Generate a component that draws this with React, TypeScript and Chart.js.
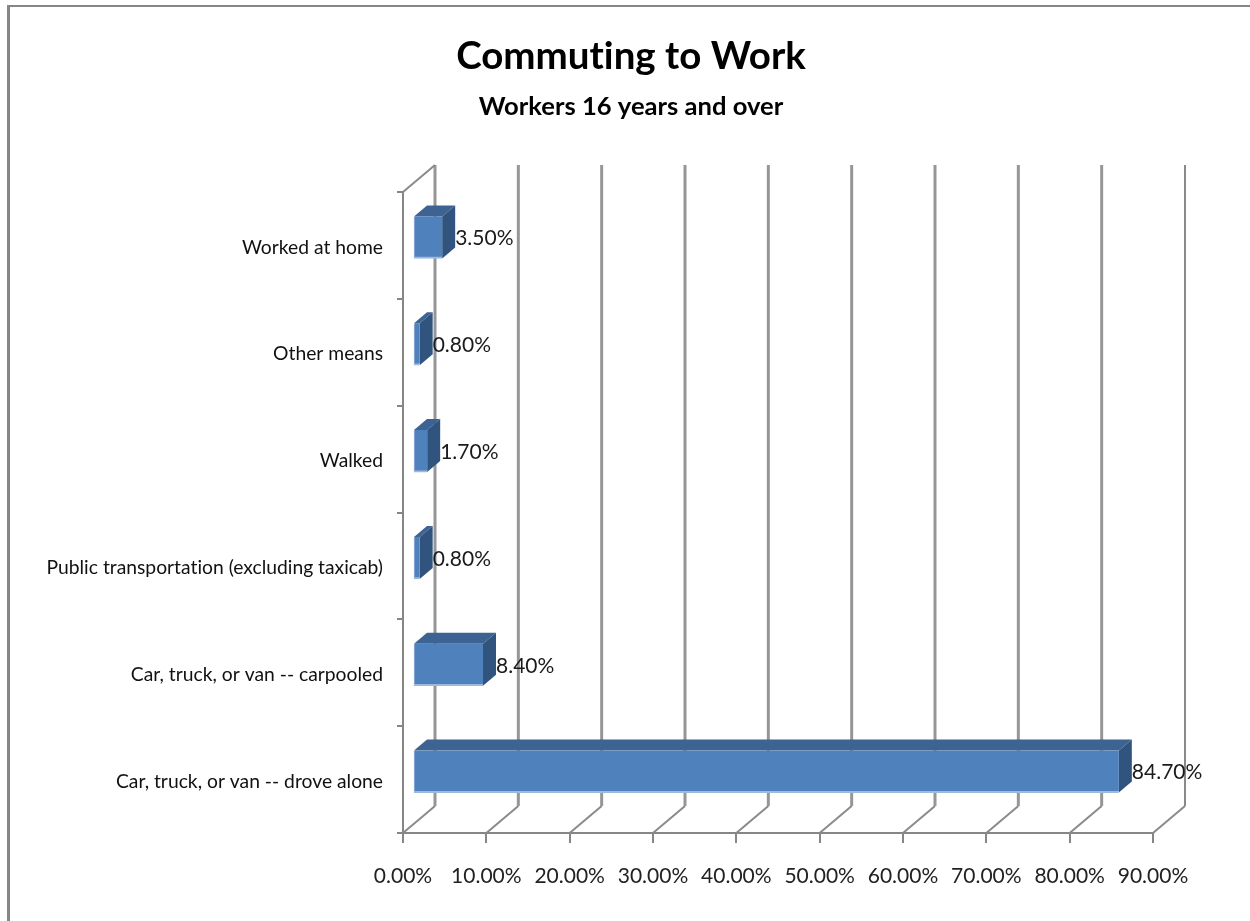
import React, { useEffect, useRef } from "react";
import { Chart, registerables } from "chart.js";

Chart.register(...registerables);

const categories = [
  "Worked at home",
  "Other means",
  "Walked",
  "Public transportation (excluding taxicab)",
  "Car, truck, or van -- carpooled",
  "Car, truck, or van -- drove alone",
];
const shares = [3.5, 0.8, 1.7, 0.8, 8.4, 84.7];
const titleText = "Commuting to Work";
const subtitleText = "Workers 16 years and over";

const FONT = "Lato, Carlito, sans-serif";
const AXIS_COLOR = "#868686";
const WALL_COLOR = "#969696";
const EDGE_COLOR = "#8a8a8a";
const FACE_COLOR = "#4f81bd";
const TOP_COLOR = "#3c6391";
const SIDE_COLOR = "#31547f";

// Pseudo-3D projection: the back wall sits up and to the right of the floor's front edge.
const WALL_DX = 32;
const WALL_DY = 27;
// Bars stand a little inside the floor and have a shallower depth of their own.
const BAR_DX = 10;
const BAR_DY = 8;
const BAR_DEPTH_X = 13;
const BAR_DEPTH_Y = 11;

const percent = (v: number) => `${v.toFixed(2)}%`;

const perspective = {
  id: "perspective",
  beforeDraw(chart: any) {
    const { ctx } = chart;
    // Plain glyph shaping keeps "ti" as two separate letters.
    ctx.textRendering = "optimizeSpeed";
    ctx.save();
    ctx.fillStyle = "#000000";
    ctx.textAlign = "center";
    ctx.textBaseline = "middle";
    ctx.font = `bold 38.5px ${FONT}`;
    ctx.fillText(titleText, 631, 57);
    ctx.font = `bold 25.6px ${FONT}`;
    ctx.fillText(subtitleText, 631, 107);
    ctx.restore();
  },
  beforeDatasetsDraw(chart: any) {
    const { ctx, scales } = chart;
    const x = scales.x;
    const top = chart.chartArea.top;
    const bottom = chart.chartArea.bottom;
    ctx.save();
    x.ticks.forEach((t: any, i: number) => {
      const px = x.getPixelForValue(t.value);
      const last = i === x.ticks.length - 1;
      ctx.strokeStyle = EDGE_COLOR;
      ctx.lineWidth = 2;
      ctx.beginPath();
      ctx.moveTo(px, bottom);
      ctx.lineTo(px + WALL_DX, bottom - WALL_DY);
      ctx.stroke();
      ctx.strokeStyle = last ? EDGE_COLOR : WALL_COLOR;
      ctx.lineWidth = last ? 2 : 3;
      ctx.beginPath();
      ctx.moveTo(px + WALL_DX, bottom - WALL_DY);
      ctx.lineTo(px + WALL_DX, top - WALL_DY);
      ctx.stroke();
    });
    const left = x.getPixelForValue(0);
    ctx.strokeStyle = EDGE_COLOR;
    ctx.lineWidth = 2;
    ctx.beginPath();
    ctx.moveTo(left, top);
    ctx.lineTo(left + WALL_DX, top - WALL_DY);
    ctx.stroke();

    // Top and end faces of every bar, drawn before the front faces.
    chart.getDatasetMeta(0).data.forEach((bar: any) => {
      const { x: end, y, base, height } = bar.getProps(["x", "y", "base", "height"], true);
      const l = base + BAR_DX;
      const r = end + BAR_DX;
      const t = y - height / 2 - BAR_DY;
      const b = y + height / 2 - BAR_DY;
      ctx.fillStyle = TOP_COLOR;
      ctx.beginPath();
      ctx.moveTo(l, t);
      ctx.lineTo(l + BAR_DEPTH_X, t - BAR_DEPTH_Y);
      ctx.lineTo(r + BAR_DEPTH_X, t - BAR_DEPTH_Y);
      ctx.lineTo(r, t);
      ctx.closePath();
      ctx.fill();
      ctx.fillStyle = SIDE_COLOR;
      ctx.beginPath();
      ctx.moveTo(r, t);
      ctx.lineTo(r + BAR_DEPTH_X, t - BAR_DEPTH_Y);
      ctx.lineTo(r + BAR_DEPTH_X, b - BAR_DEPTH_Y);
      ctx.lineTo(r, b);
      ctx.closePath();
      ctx.fill();
    });
    ctx.restore();
  },
  beforeDatasetDraw(chart: any) {
    chart.ctx.save();
    chart.ctx.translate(BAR_DX, -BAR_DY);
  },
  afterDatasetDraw(chart: any) {
    chart.ctx.restore();
  },
  afterDatasetsDraw(chart: any) {
    const { ctx } = chart;
    ctx.save();
    ctx.fillStyle = "#1a1a1a";
    ctx.font = `21px ${FONT}`;
    ctx.textAlign = "left";
    ctx.textBaseline = "middle";
    chart.getDatasetMeta(0).data.forEach((bar: any, i: number) => {
      const { x: end, y } = bar.getProps(["x", "y"], true);
      ctx.fillText(percent(shares[i]), end + BAR_DX + BAR_DEPTH_X, y - BAR_DY + 1);
    });
    ctx.restore();
  },
};

export default function App() {
  const canvasRef = useRef<HTMLCanvasElement>(null);

  useEffect(() => {
    const chart = new Chart(canvasRef.current as HTMLCanvasElement, {
      type: "bar",
      data: {
        labels: categories,
        datasets: [
          {
            data: shares,
            backgroundColor: FACE_COLOR,
            borderColor: "#9db9dc",
            borderWidth: { left: 1, bottom: 2, top: 0, right: 0 },
            borderSkipped: false,
            barThickness: 42,
            clip: false,
          },
        ],
      },
      options: {
        indexAxis: "y",
        animation: false,
        responsive: false,
        layout: { padding: { left: 0, right: 97, top: 192, bottom: 0 } },
        plugins: {
          legend: { display: false },
          tooltip: { enabled: false },
        },
        scales: {
          x: {
            min: 0,
            max: 90,
            afterFit: (s: any) => {
              s.height = 88;
            },
            border: { display: true, color: AXIS_COLOR, width: 2 },
            grid: {
              drawOnChartArea: false,
              drawTicks: true,
              tickLength: 10,
              color: AXIS_COLOR,
              lineWidth: 2,
            },
            ticks: {
              stepSize: 10,
              autoSkip: false,
              maxRotation: 0,
              padding: 21,
              color: "#222222",
              font: { family: FONT, size: 21 },
              callback: (v: any) => percent(Number(v)),
            },
          },
          y: {
            afterFit: (s: any) => {
              s.width = 403;
            },
            border: { display: true, color: AXIS_COLOR, width: 2 },
            grid: {
              drawOnChartArea: false,
              drawTicks: true,
              tickLength: 6,
              color: AXIS_COLOR,
              lineWidth: 2,
            },
            ticks: {
              padding: 14,
              labelOffset: 2,
              autoSkip: false,
              color: "#111111",
              font: { family: FONT, size: 19.3 },
            },
          },
        },
      },
      plugins: [perspective],
    } as any);
    return () => chart.destroy();
  }, []);

  return (
    <div style={{ position: "absolute", left: 0, top: 0, width: 1250, height: 921, background: "#ffffff" }}>
      <canvas ref={canvasRef} width={1250} height={921} style={{ display: "block" }} />
      <div
        style={{
          position: "absolute",
          left: 7,
          top: 5,
          right: 0,
          bottom: 0,
          borderTop: `2px solid ${AXIS_COLOR}`,
          borderLeft: `3px solid ${AXIS_COLOR}`,
          pointerEvents: "none",
        }}
      />
    </div>
  );
}
